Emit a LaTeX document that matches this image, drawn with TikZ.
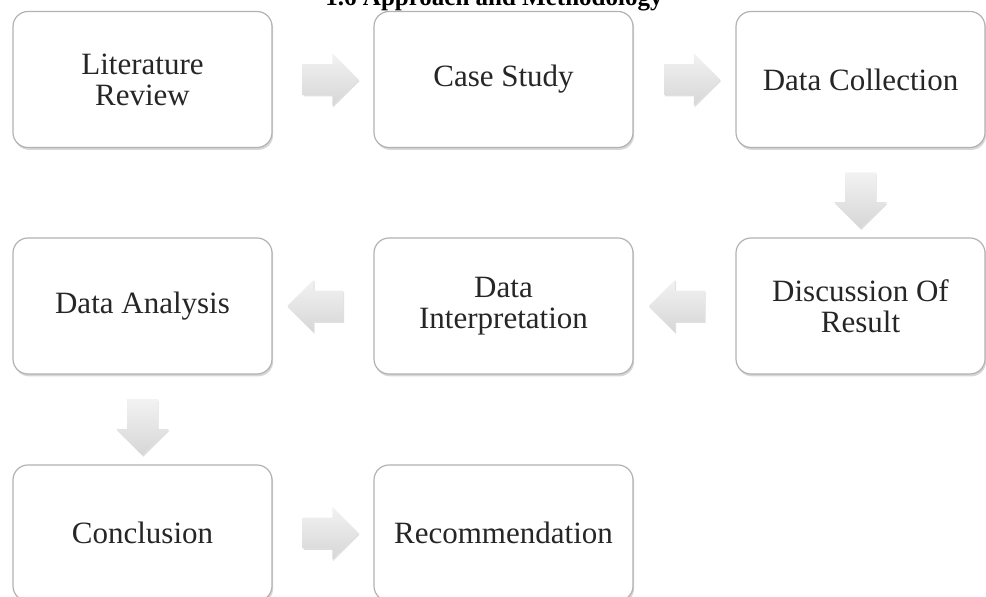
\documentclass[tikz,border=0pt]{standalone}
\usepackage{fontspec}
\setmainfont{Liberation Serif}
\usetikzlibrary{calc,shapes.arrows,shadows}

\tikzset{
  stagebox/.style={draw=gray!60, line width=0.6pt, rounded corners=7.5pt, fill=white,
    minimum width=129.5pt, minimum height=68pt, align=center, text=black!85,
    font=\fontsize{15.5}{15.5}\selectfont,
    drop shadow={shadow xshift=0.6pt, shadow yshift=-1.2pt, opacity=0.45, fill=gray!70}},
  flowarrow/.style={single arrow, draw=none, top color=gray!10, bottom color=gray!32,
    minimum height=28pt, inner xsep=0pt, inner ysep=7.5pt, single arrow head extend=5.5pt,
    drop shadow={shadow xshift=0.4pt, shadow yshift=-0.8pt, opacity=0.25}},
  downarrow/.style={flowarrow, shape border rotate=270, inner xsep=7.5pt, inner ysep=0pt}
}

\begin{document}
\begin{tikzpicture}[x=0.5pt, y=-0.5pt]

% Frame of the page
\useasboundingbox (0,0) rectangle (986,597);
\clip (0,0) rectangle (986,597);

% Title (cut off at the top)
\node[anchor=base, font=\fontsize{12.5}{14}\selectfont\bfseries] (title) at (494,6) {1.6 Approach and Methodology};

% Stages
\node[stagebox] (lit) at (142.5,79.5) {Literature\\Review};
\node[stagebox] (case) at (503.5,79.5) {Case Study};
\node[stagebox, minimum width=124.5pt] (collect) at (860.5,79.5) {Data Collection};
\node[stagebox, minimum width=124.5pt] (discuss) at (860.5,306) {Discussion Of\\Result};
\node[stagebox] (interp) at (503.5,306) {Data\\Interpretation};
\node[stagebox] (analysis) at (142.5,306) {Data Analysis};
\node[stagebox] (concl) at (142.5,533) {Conclusion};
\node[stagebox] (recomm) at (503.5,533) {Recommendation};

% Block arrows between stages
\node[flowarrow] (a1) at ($(lit.east)!0.5!(case.west)$) {};
\node[flowarrow] (a2) at ($(case.east)!0.5!(collect.west)$) {};
\node[downarrow] (a3) at ($(collect.south)!0.5!(discuss.north)$) {};
\node[flowarrow, shape border rotate=180] (a4) at ($(discuss.west)!0.5!(interp.east)$) {};
\node[flowarrow, shape border rotate=180] (a5) at ($(interp.west)!0.5!(analysis.east)$) {};
\node[downarrow] (a6) at ($(analysis.south)!0.5!(concl.north)$) {};
\node[flowarrow] (a7) at ($(concl.east)!0.5!(recomm.west)$) {};

\end{tikzpicture}
\end{document}
